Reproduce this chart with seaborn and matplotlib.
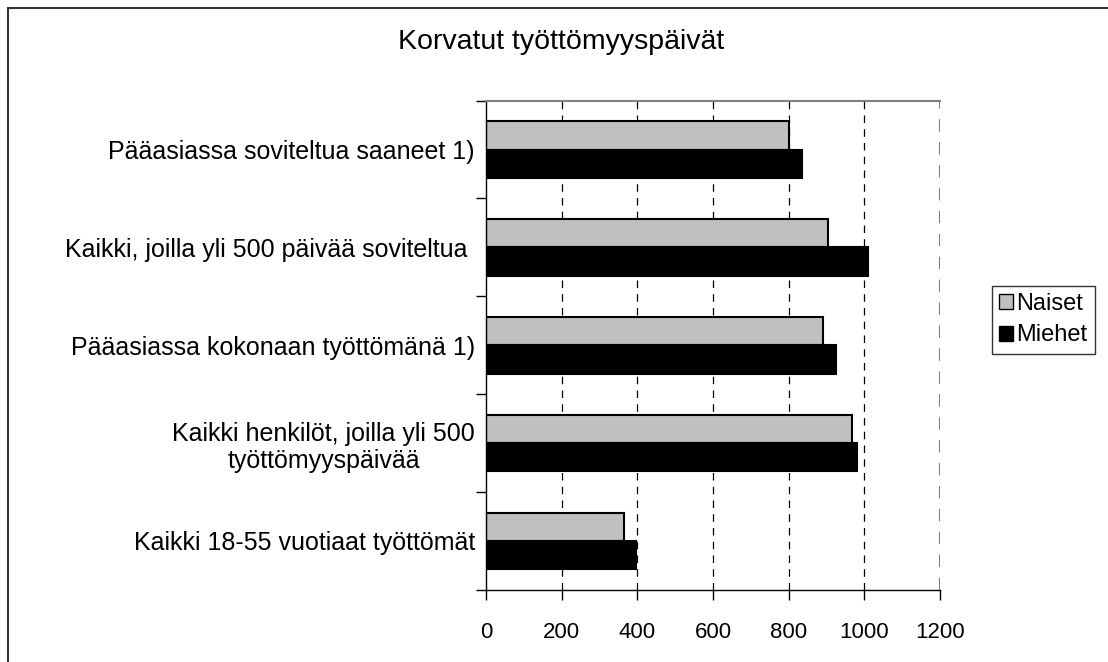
import pandas as pd
import matplotlib
matplotlib.use("Agg")
import matplotlib.pyplot as plt
import seaborn as sns
from matplotlib.patches import Rectangle, Patch

# DATA
categories = [
    "Pääasiassa soviteltua saaneet 1)",
    "Kaikki, joilla yli 500 päivää soviteltua ",
    "Pääasiassa kokonaan työttömänä 1)",
    "Kaikki henkilöt, joilla yli 500\ntyöttömyyspäivää",
    "Kaikki 18-55 vuotiaat työttömät",
]
naiset = [800, 905, 892, 968, 365]
miehet = [836, 1010, 926, 981, 397]
series = ["Naiset", "Miehet"]
colors = ["#c0c0c0", "#000000"]
xticks = [0, 200, 400, 600, 800, 1000, 1200]

df = pd.DataFrame({
    "kategoria": categories * 2,
    "sarja": [series[0]] * len(categories) + [series[1]] * len(categories),
    "paivat": naiset + miehet,
})

sns.set_style("white")
plt.rcParams["font.family"] = ["Liberation Sans", "DejaVu Sans"]
plt.rcParams["text.color"] = "black"
plt.rcParams["xtick.labelcolor"] = "black"
plt.rcParams["ytick.labelcolor"] = "black"

fig = plt.figure(figsize=(11.08, 6.62), dpi=100)
ax = fig.add_axes([0.4386, 0.109, 0.4097, 0.739])

sns.barplot(data=df, y="kategoria", x="paivat", hue="sarja", order=categories,
            hue_order=series, palette=colors, orient="h", width=0.58,
            edgecolor="black", linewidth=1.5, legend=False, ax=ax)

ax.set_xlim(0, 1200)
ax.set_ylim(len(categories) - 0.5, -0.5)
ax.set_xticks(xticks)
ax.set_xticklabels([str(t) for t in xticks], fontsize=16, color="black")
ax.set_xlabel("")
ax.set_ylabel("")

# gridlines
for t in xticks[1:-1]:
    ax.axvline(t, color="black", linestyle=(0, (6, 5)), linewidth=0.9, zorder=0)
ax.axvline(1200, color="#808080", linestyle=(0, (6, 5)), linewidth=1.5, zorder=0)

# category labels + ticks on the boundaries
ax.set_yticks(range(len(categories)))
ax.set_yticklabels(categories, fontsize=18, multialignment="center", color="black")
ax.tick_params(axis="y", length=0, pad=8)
ax.set_yticks([i + 0.5 for i in range(-1, len(categories))], minor=True)
ax.tick_params(axis="y", which="minor", length=7, width=1, color="black", left=True)
ax.tick_params(axis="x", length=7, width=1, color="black", bottom=True, pad=16)

for s in ["left", "bottom"]:
    ax.spines[s].set_color("black")
    ax.spines[s].set_linewidth(1)
ax.spines["right"].set_visible(False)
ax.spines["top"].set_color("#808080")
ax.spines["top"].set_linewidth(1.5)

fig.text(0.506, 0.937, "Korvatut työttömyyspäivät", fontsize=20.5,
         ha="center", va="center", color="black")

handles = [Patch(facecolor=c, edgecolor="black", label=l) for c, l in zip(colors, series)]
fig.legend(handles=handles, loc="center left", bbox_to_anchor=(0.895, 0.517),
           fontsize=17, frameon=True, fancybox=False, edgecolor="black",
           handlelength=0.6, handleheight=0.6, handletextpad=0.15,
           borderpad=0.3, labelspacing=0.4, borderaxespad=0)

# outer chart border
fig.patches.append(Rectangle((8 / 1108, -0.1), 1.2, 1 - 8 / 662 + 0.1,
                             transform=fig.transFigure, fill=False,
                             edgecolor="#333333", linewidth=1.5))

fig.savefig("out.png", dpi=100)
